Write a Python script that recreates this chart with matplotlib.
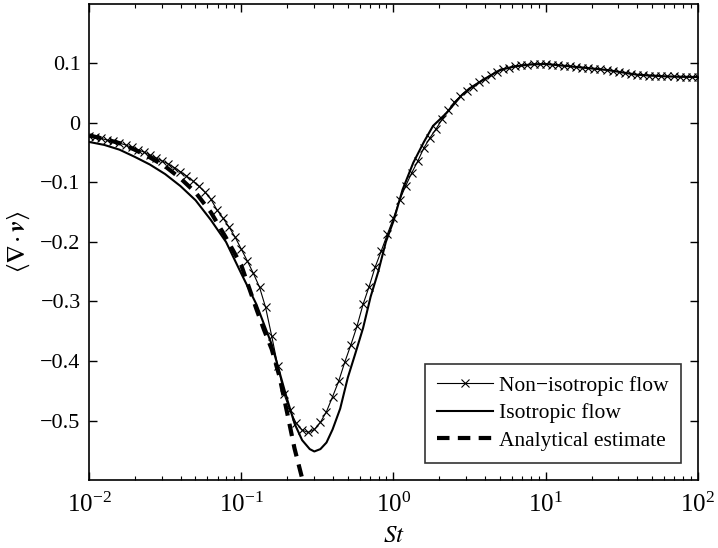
import numpy as np
import matplotlib
matplotlib.use('Agg')
import matplotlib.pyplot as plt
from matplotlib.ticker import LogLocator, NullFormatter

plt.rcParams['font.family'] = ['Liberation Serif', 'DejaVu Serif']
plt.rcParams['mathtext.fontset'] = 'stix'

# log10(St) grid of the non-isotropic run
log_st_noniso = np.linspace(-2, 2, 101)
div_noniso = [
    -0.022, -0.024, -0.026, -0.029, -0.031, -0.034, -0.037, -0.041, -0.045, -0.049,
    -0.054, -0.059, -0.064, -0.069, -0.075, -0.082, -0.089, -0.097, -0.106, -0.116,
    -0.128, -0.146, -0.160, -0.175, -0.192, -0.212, -0.232, -0.253, -0.276, -0.310,
    -0.358, -0.408, -0.455, -0.483, -0.504, -0.516, -0.520, -0.515, -0.503, -0.485,
    -0.460, -0.434, -0.402, -0.373, -0.342, -0.305, -0.275, -0.242, -0.215, -0.187,
    -0.160, -0.130, -0.106, -0.084, -0.064, -0.042, -0.025, -0.010, 0.006, 0.021,
    0.035, 0.045, 0.054, 0.061, 0.068, 0.074, 0.080, 0.086, 0.090, 0.093,
    0.095, 0.097, 0.098, 0.099, 0.099, 0.099, 0.098, 0.097, 0.096, 0.095,
    0.094, 0.093, 0.092, 0.091, 0.090, 0.089, 0.088, 0.086, 0.084, 0.082,
    0.081, 0.080, 0.079, 0.079, 0.078, 0.078, 0.078, 0.077, 0.077, 0.077,
    0.077,
]

log_st_iso = [-2.0, -1.9, -1.8, -1.7, -1.6, -1.5, -1.4, -1.3, -1.2, -1.1,
              -1.0, -0.9, -0.8, -0.7, -0.65, -0.6, -0.55, -0.52, -0.48, -0.44,
              -0.40, -0.35, -0.3, -0.25, -0.2, -0.15, -0.1, -0.05, 0.0, 0.06,
              0.13, 0.2, 0.26, 0.35, 0.45, 0.5, 0.6, 0.7, 0.8, 0.9,
              1.0, 1.2, 1.4, 1.6, 1.8, 2.0]
div_iso = [-0.032, -0.037, -0.045, -0.057, -0.070, -0.086, -0.106, -0.130, -0.163, -0.200,
           -0.253, -0.305, -0.372, -0.463, -0.505, -0.533, -0.548, -0.552, -0.548, -0.537,
           -0.515, -0.480, -0.428, -0.387, -0.345, -0.292, -0.250, -0.200, -0.165, -0.112,
           -0.067, -0.032, -0.005, 0.017, 0.047, 0.058, 0.074, 0.089, 0.095, 0.098,
           0.099, 0.094, 0.089, 0.081, 0.078, 0.077]

log_st_analytic = [-2.0, -1.9, -1.8, -1.7, -1.6, -1.5, -1.4, -1.3, -1.2, -1.1,
                   -1.0, -0.9, -0.85, -0.8, -0.75, -0.7, -0.65, -0.6, -0.56]
div_analytic = [-0.021, -0.027, -0.034, -0.045, -0.058, -0.073, -0.093, -0.117, -0.150, -0.193,
                -0.239, -0.313, -0.348, -0.380, -0.425, -0.485, -0.547, -0.597, -0.650]

y_ticks = [-0.5, -0.4, -0.3, -0.2, -0.1, 0, 0.1]
y_ticklabels = ['\u22120.5', '\u22120.4', '\u22120.3', '\u22120.2', '\u22120.1', '0', '0.1']

fig = plt.figure(figsize=(7.18, 5.48), dpi=100)
ax = fig.add_axes([0.124, 0.124, 0.848, 0.869])

ax.plot(10 ** np.asarray(log_st_noniso), div_noniso, color='k', lw=0.8,
        marker='x', markersize=6, markeredgewidth=0.8, label='Non\u2212isotropic flow')
ax.plot(10 ** np.asarray(log_st_iso), div_iso, color='k', lw=1.5, label='Isotropic flow')
ax.plot(10 ** np.asarray(log_st_analytic), div_analytic, color='k', lw=3,
        ls=(0, (3, 2)), label='Analytical estimate')

ax.set_xscale('log')
ax.set_xlim(1e-2, 1e2)
ax.set_ylim(-0.6, 0.2)
ax.set_yticks(y_ticks)
ax.set_yticklabels(y_ticklabels)
ax.xaxis.set_minor_locator(LogLocator(base=10, subs=np.arange(2, 10), numticks=20))
ax.xaxis.set_minor_formatter(NullFormatter())

ax.tick_params(which='both', direction='in', top=True, right=True)
ax.tick_params(axis='y', labelsize=16, pad=6)
ax.tick_params(axis='x', labelsize=18, pad=9)
ax.tick_params(which='major', length=6, width=1)
ax.tick_params(which='minor', length=3, width=0.8)
for s in ax.spines.values():
    s.set_linewidth(1.2)

ax.set_xlabel(r'$St$', fontsize=18, labelpad=6)
ax.set_ylabel(r'$\langle \boldsymbol{\nabla} \cdot \boldsymbol{v} \rangle$', fontsize=18, labelpad=6)

leg = ax.legend(loc='lower right', fontsize=15.5, frameon=True, fancybox=False,
                edgecolor='k', handlelength=2.6, borderpad=0.55, labelspacing=0.35,
                handletextpad=0.3, borderaxespad=0.8)
leg.get_frame().set_linewidth(1.2)

fig.savefig('out.png', dpi=100)
